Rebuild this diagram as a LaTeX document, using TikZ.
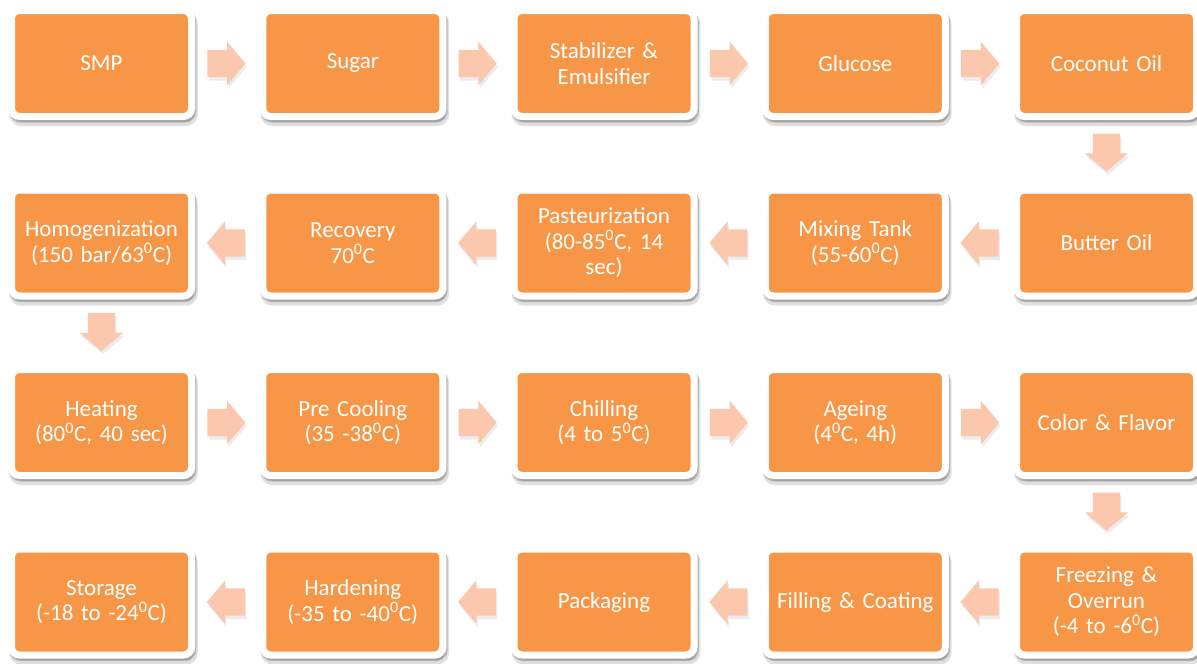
\documentclass[tikz,border=0pt]{standalone}
\usepackage{fontspec}
\setmainfont{Carlito}
\usepackage{tikz}
\usetikzlibrary{calc,shapes.arrows,shadows}
\definecolor{cLaranja}{HTML}{F79646}
\definecolor{cSeta}{HTML}{FBC8AE}

\begin{document}
\begin{tikzpicture}[
  x=0.75pt,y=-0.75pt,
  box/.style={fill=cLaranja,draw=white,line width=5.25pt,rounded corners=6pt,
              minimum width=135pt,minimum height=79.5pt,text width=130pt,
              align=center,inner sep=0pt,text=white,
              font=\fontsize{17.25}{19.2}\selectfont,
              drop shadow={shadow xshift=1.5pt,shadow yshift=-4pt,opacity=0.12,
                           fill=black,draw=black,line width=6.5pt},
              drop shadow={shadow xshift=1pt,shadow yshift=-2pt,opacity=0.18,
                           fill=black,draw=black,line width=5.25pt}},
  seta/.style={single arrow,fill=cSeta,draw=none,anchor=tail,
               minimum height=28.5pt,
               single arrow head extend=6pt,single arrow tip angle=100,
               drop shadow={shadow xshift=1pt,shadow yshift=-2.5pt,opacity=0.15}},
  dir/.style={seta,inner xsep=0pt,inner ysep=10.1pt},
  esq/.style={seta,inner xsep=0pt,inner ysep=10.1pt,shape border rotate=180},
  baixo/.style={seta,inner xsep=10.1pt,inner ysep=0pt,shape border rotate=270}
]
\useasboundingbox (0,0) rectangle (1197,664);

% ---- linha 1
\node[box] (a1) at (101.5,63.5) {SMP};
\node[box] (a2) at (352.8,63.5) {Sugar};
\node[box] (a3) at (604,63.5)   {Stabilizer \&\\ Emulsifier};
\node[box] (a4) at (855.3,63.5) {Glucose};
\node[box] (a5) at (1106.5,63.5) {Coconut Oil};

% ---- linha 2
\node[box] (b1) at (101.5,243) {Homogenization\\ (150 bar/63\textsuperscript{0}C)};
\node[box] (b2) at (352.8,243) {Recovery\\ 70\textsuperscript{0}C};
\node[box] (b3) at (604,243)   {Pasteurization\\ (80-85\textsuperscript{0}C, 14\\ sec)};
\node[box] (b4) at (855.3,243) {Mixing Tank\\ (55-60\textsuperscript{0}C)};
\node[box] (b5) at (1106.5,243) {Butter Oil};

% ---- linha 3
\node[box] (c1) at (101.5,422.5) {Heating\\ (80\textsuperscript{0}C, 40 sec)};
\node[box] (c2) at (352.8,422.5) {Pre Cooling\\ (35 -38\textsuperscript{0}C)};
\node[box] (c3) at (604,422.5)   {Chilling\\ (4 to 5\textsuperscript{0}C)};
\node[box] (c4) at (855.3,422.5) {Ageing\\ (4\textsuperscript{0}C, 4h)};
\node[box] (c5) at (1106.5,422.5) {Color \& Flavor};

% ---- linha 4
\node[box] (d1) at (101.5,602) {Storage\\ (-18 to -24\textsuperscript{0}C)};
\node[box] (d2) at (352.8,602) {Hardening\\ (-35 to -40\textsuperscript{0}C)};
\node[box] (d3) at (604,602)   {Packaging};
\node[box] (d4) at (855.3,602) {Filling \& Coating};
\node[box] (d5) at (1106.5,602) {Freezing \&\\ Overrun\\ (-4 to -6\textsuperscript{0}C)};

% ---- setas (ancoradas pela cauda)
\foreach \i/\j in {1/2,2/3,3/4,4/5}{
  \node[dir] (sa\i) at ($(a\i.east)!0.5!(a\j.west)+(-20,0)$) {};
  \node[esq] (sb\i) at ($(b\i.east)!0.5!(b\j.west)+(18,0)$) {};
  \node[dir] (sc\i) at ($(c\i.east)!0.5!(c\j.west)+(-20,0)$) {};
  \node[esq] (sd\i) at ($(d\i.east)!0.5!(d\j.west)+(18,0)$) {};
}
\node[baixo] (v1) at ($(a5.south)!0.5!(b5.north)+(0,-20)$) {};
\node[baixo] (v2) at ($(b1.south)!0.5!(c1.north)+(0,-20)$) {};
\node[baixo] (v3) at ($(c5.south)!0.5!(d5.north)+(0,-20)$) {};
\end{tikzpicture}
\end{document}
